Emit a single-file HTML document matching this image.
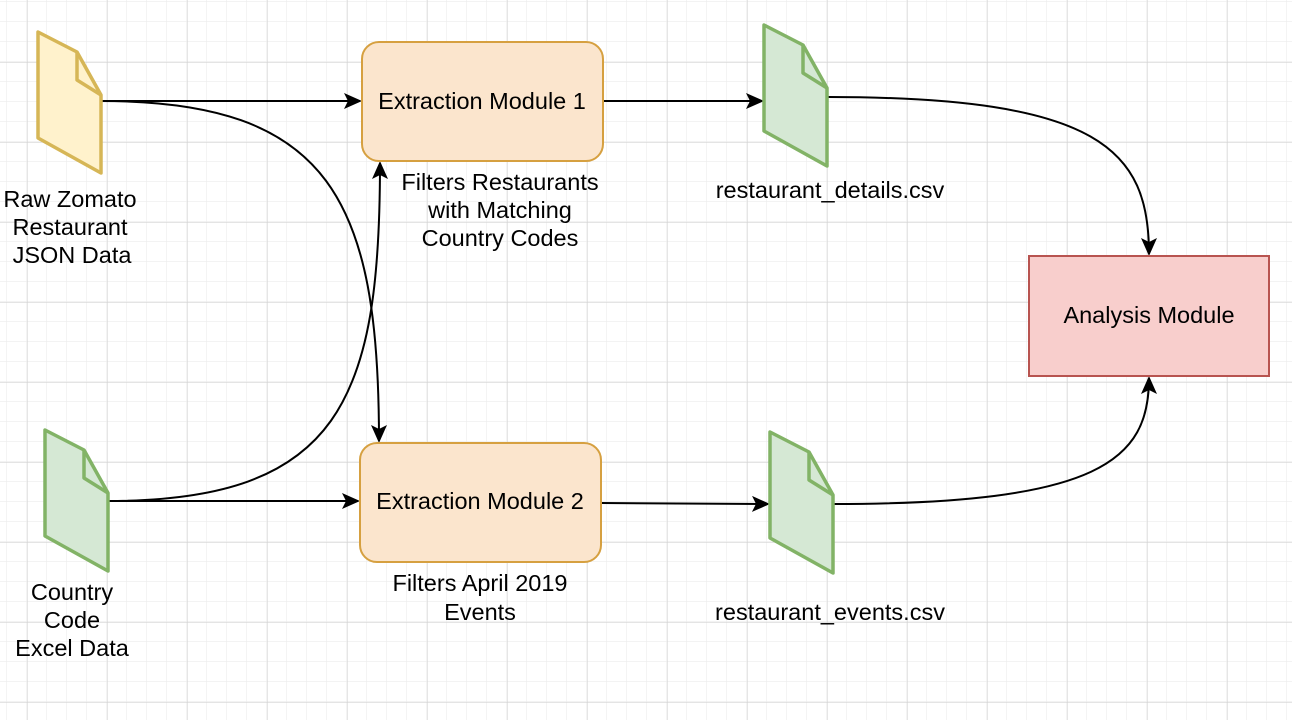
<!DOCTYPE html>
<html><head><style>
body{margin:0;width:1292px;height:720px;overflow:hidden;background:#fff;}
svg{display:block}
text{font-family:"Liberation Sans",Helvetica,Arial,sans-serif;font-size:23.5px;fill:#000}
</style></head><body>
<svg width="1292" height="720" viewBox="0 0 1292 720" xmlns="http://www.w3.org/2000/svg">
<defs>
<pattern id="minor" x="27" y="2" width="20" height="20" patternUnits="userSpaceOnUse">
<path d="M20 0V20M0 20H20" fill="none" stroke="#ececec" stroke-width="1.2"/>
</pattern>
<pattern id="major" x="27" y="62" width="80" height="80" patternUnits="userSpaceOnUse">
<path d="M0 0V80M0 0H80" fill="none" stroke="#d4d4d4" stroke-width="1.2"/>
</pattern>
<marker id="ar" markerWidth="18" markerHeight="16" refX="16" refY="8" orient="auto" markerUnits="userSpaceOnUse">
<path d="M0 0 L18 8 L0 16 L4 8 Z" fill="#000"/>
</marker>
</defs>
<rect width="1292" height="720" fill="url(#minor)"/>
<rect width="1292" height="720" fill="url(#major)"/>

<g fill="none" stroke="#000" stroke-width="2">
<path d="M101 101 H360" marker-end="url(#ar)"/>
<path d="M101 101 C330 101 379 200 379 441" marker-end="url(#ar)"/>
<path d="M107 501 H358" marker-end="url(#ar)"/>
<path d="M107 501 C340 501 380 400 380 163" marker-end="url(#ar)"/>
<path d="M603 101 H762" marker-end="url(#ar)"/>
<path d="M601 503 L768 504" marker-end="url(#ar)"/>
<path d="M828 97 C1100 97 1149 150 1149 254" marker-end="url(#ar)"/>
<path d="M833 504 C1100 504 1149 460 1149 378" marker-end="url(#ar)"/>
</g>

<g stroke-width="3.5" stroke-linejoin="round">
<g transform="translate(38,32)" fill="#fff2cc" stroke="#d6b656">
<path d="M0 0 L39 20 L63 63 L63 141 L0 106 Z"/><path d="M39 20 L39 48 L63 63" fill="none"/>
</g>
<g transform="translate(45,430)" fill="#d5e8d4" stroke="#82b366">
<path d="M0 0 L39 20 L63 63 L63 141 L0 106 Z"/><path d="M39 20 L39 48 L63 63" fill="none"/>
</g>
<g transform="translate(764,25)" fill="#d5e8d4" stroke="#82b366">
<path d="M0 0 L39 20 L63 63 L63 141 L0 106 Z"/><path d="M39 20 L39 48 L63 63" fill="none"/>
</g>
<g transform="translate(770,432)" fill="#d5e8d4" stroke="#82b366">
<path d="M0 0 L39 20 L63 63 L63 141 L0 106 Z"/><path d="M39 20 L39 48 L63 63" fill="none"/>
</g>
</g>

<rect x="362" y="42" width="241" height="119" rx="17" fill="#fbe5cd" stroke="#d6a040" stroke-width="2"/>
<rect x="360" y="443" width="241" height="119" rx="17" fill="#fbe5cd" stroke="#d6a040" stroke-width="2"/>
<rect x="1029" y="256" width="240" height="120" fill="#f8cecc" stroke="#b85450" stroke-width="2"/>

<g text-anchor="middle">
<text x="482" y="109">Extraction Module 1</text>
<text x="480" y="509">Extraction Module 2</text>
<text x="1149" y="323">Analysis Module</text>
<text x="70" y="207">Raw Zomato</text>
<text x="70" y="235">Restaurant</text>
<text x="72" y="263">JSON Data</text>
<text x="72" y="600">Country</text>
<text x="72" y="628">Code</text>
<text x="72" y="656">Excel Data</text>
<text x="500" y="190">Filters Restaurants</text>
<text x="500" y="218">with Matching</text>
<text x="500" y="246">Country Codes</text>
<text x="480" y="591">Filters April 2019</text>
<text x="480" y="620">Events</text>
<text x="830" y="198">restaurant_details.csv</text>
<text x="830" y="620">restaurant_events.csv</text>
</g>
</svg>
</body></html>
